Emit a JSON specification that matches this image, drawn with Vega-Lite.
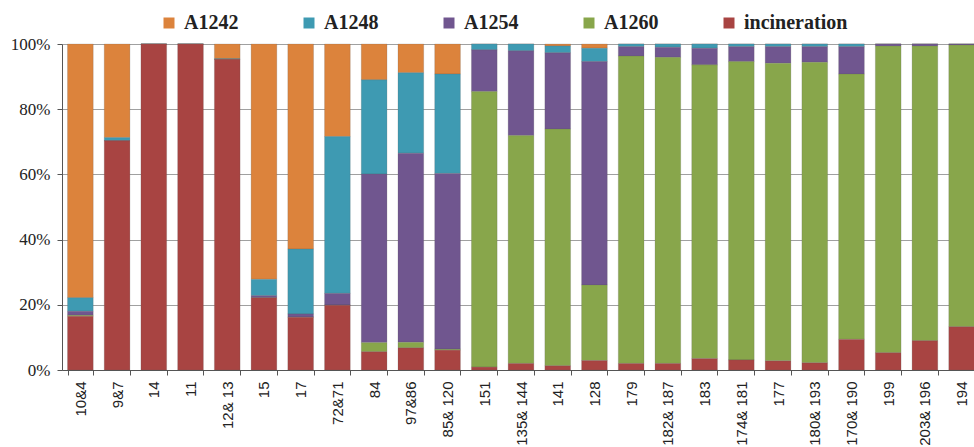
{
  "$schema": "https://vega.github.io/schema/vega-lite/v6.json",
  "width": 918,
  "height": 326,
  "autosize": {"type": "none"},
  "padding": {"left": 62, "top": 44, "right": 0, "bottom": 77},
  "background": "white",
  "data": {
    "values": [
      {"sample": "10&4", "incineration": 16.5, "A1260": 0.3, "A1254": 1.2, "A1248": 4.2, "A1242": 77.8},
      {"sample": "9&7", "incineration": 70.3, "A1260": 0, "A1254": 0.1, "A1248": 0.9, "A1242": 28.7},
      {"sample": "14", "incineration": 100, "A1260": 0, "A1254": 0, "A1248": 0, "A1242": 0},
      {"sample": "11", "incineration": 100, "A1260": 0, "A1254": 0, "A1248": 0, "A1242": 0},
      {"sample": "12& 13", "incineration": 95.3, "A1260": 0, "A1254": 0, "A1248": 0.2, "A1242": 4.5},
      {"sample": "15", "incineration": 22.2, "A1260": 0, "A1254": 0.6, "A1248": 5.0, "A1242": 72.2},
      {"sample": "17", "incineration": 16.2, "A1260": 0, "A1254": 1.0, "A1248": 19.9, "A1242": 62.9},
      {"sample": "72&71", "incineration": 19.9, "A1260": 0, "A1254": 3.6, "A1248": 48.1, "A1242": 28.4},
      {"sample": "84", "incineration": 5.6, "A1260": 2.8, "A1254": 51.7, "A1248": 28.9, "A1242": 11.0},
      {"sample": "97&86", "incineration": 6.8, "A1260": 1.7, "A1254": 58.0, "A1248": 24.7, "A1242": 8.8},
      {"sample": "85& 120", "incineration": 6.1, "A1260": 0.3, "A1254": 53.9, "A1248": 30.5, "A1242": 9.2},
      {"sample": "151", "incineration": 0.9, "A1260": 84.5, "A1254": 12.8, "A1248": 1.8, "A1242": 0},
      {"sample": "135& 144", "incineration": 2.0, "A1260": 69.9, "A1254": 26.0, "A1248": 2.1, "A1242": 0},
      {"sample": "141", "incineration": 1.3, "A1260": 72.6, "A1254": 23.4, "A1248": 2.1, "A1242": 0.6},
      {"sample": "128", "incineration": 2.9, "A1260": 23.2, "A1254": 68.5, "A1248": 4.1, "A1242": 1.3},
      {"sample": "179", "incineration": 2.0, "A1260": 94.3, "A1254": 2.9, "A1248": 0.8, "A1242": 0},
      {"sample": "182& 187", "incineration": 2.0, "A1260": 93.9, "A1254": 3.1, "A1248": 1.0, "A1242": 0},
      {"sample": "183", "incineration": 3.5, "A1260": 90.1, "A1254": 5.1, "A1248": 1.3, "A1242": 0},
      {"sample": "174& 181", "incineration": 3.1, "A1260": 91.5, "A1254": 4.6, "A1248": 0.8, "A1242": 0},
      {"sample": "177", "incineration": 2.8, "A1260": 91.3, "A1254": 5.1, "A1248": 0.8, "A1242": 0},
      {"sample": "180& 193", "incineration": 2.2, "A1260": 92.2, "A1254": 4.8, "A1248": 0.8, "A1242": 0},
      {"sample": "170& 190", "incineration": 9.4, "A1260": 81.4, "A1254": 8.4, "A1248": 0.8, "A1242": 0},
      {"sample": "199", "incineration": 5.3, "A1260": 94.1, "A1254": 0.6, "A1248": 0, "A1242": 0},
      {"sample": "203& 196", "incineration": 9.0, "A1260": 90.4, "A1254": 0.6, "A1248": 0, "A1242": 0},
      {"sample": "194", "incineration": 13.3, "A1260": 86.4, "A1254": 0.3, "A1248": 0, "A1242": 0}
    ]
  },
  "transform": [
    {"fold": ["A1242", "A1248", "A1254", "A1260", "incineration"], "as": ["type", "share"]}
  ],
  "mark": {"type": "bar", "stroke": "#5a5a5a", "strokeWidth": 0.4, "strokeOpacity": 0.5},
  "encoding": {
    "x": {
      "field": "sample",
      "type": "nominal",
      "sort": null,
      "scale": {"paddingInner": 0.3, "paddingOuter": 0.15},
      "axis": {
        "title": null,
        "labelAngle": 270,
        "labelFont": "Liberation Sans",
        "labelFontSize": 15,
        "labelColor": "#222",
        "labelPadding": 6,
        "tickBand": "extent",
        "tickSize": 5,
        "tickColor": "#555",
        "domainColor": "#555",
        "grid": false
      }
    },
    "y": {
      "field": "share",
      "type": "quantitative",
      "stack": "normalize",
      "scale": {"domain": [0, 1]},
      "axis": {
        "title": null,
        "values": [0, 0.2, 0.4, 0.6, 0.8, 1],
        "format": ".0%",
        "labelFont": "Liberation Serif",
        "labelFontSize": 17,
        "labelColor": "#222",
        "labelPadding": 7,
        "tickSize": 5,
        "tickColor": "#555",
        "domainColor": "#555",
        "grid": true,
        "gridColor": "#a0a0a0",
        "gridWidth": 1
      }
    },
    "color": {
      "field": "type",
      "type": "nominal",
      "scale": {
        "domain": ["A1242", "A1248", "A1254", "A1260", "incineration"],
        "range": ["#DC833C", "#3E9AB2", "#70568F", "#88A64B", "#A84442"]
      },
      "legend": {
        "title": null,
        "orient": "none",
        "direction": "horizontal",
        "legendX": 97,
        "legendY": -31,
        "symbolType": "square",
        "symbolSize": 121,
        "symbolStrokeWidth": 0,
        "labelFont": "Liberation Serif",
        "labelFontSize": 20,
        "labelFontWeight": "bold",
        "labelColor": "#222",
        "labelOffset": 5,
        "columnPadding": 60,
        "labelLimit": 300
      }
    },
    "order": {"field": "type", "sort": "descending"}
  },
  "config": {"view": {"stroke": null}}
}
